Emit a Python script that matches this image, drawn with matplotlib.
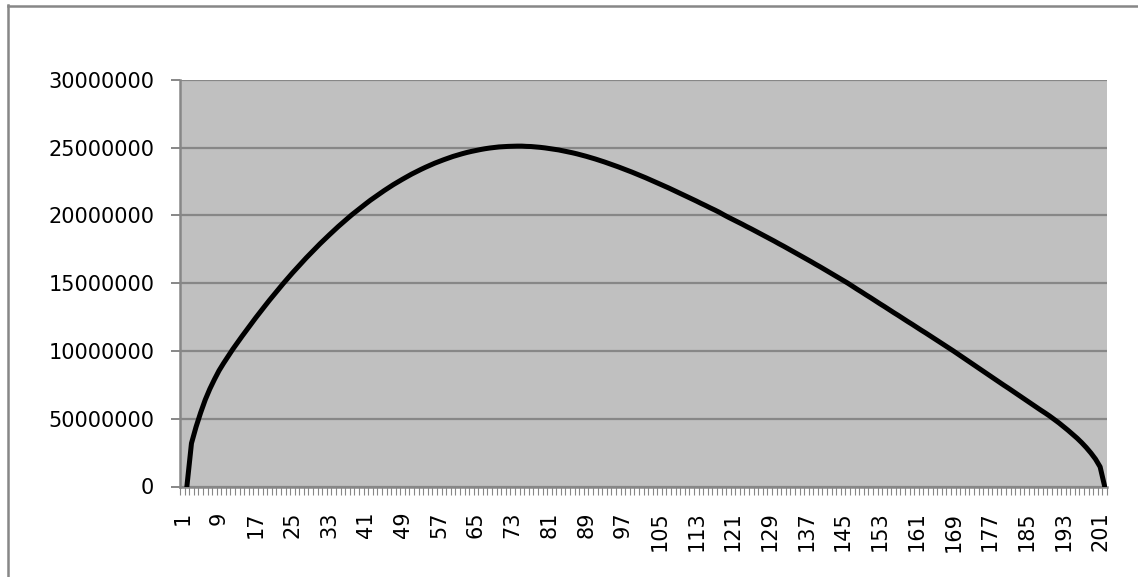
import numpy as np
import matplotlib.pyplot as plt
from matplotlib.lines import Line2D

plt.rcParams['font.family'] = 'DejaVu Sans'

# series values in millions, one per row of the sheet (row 1 is empty)
values_mln = [np.nan,
    0.00, 3.19, 4.40, 5.45, 6.40, 7.20, 7.90, 8.55, 9.10, 9.62,
    10.13, 10.61, 11.08, 11.54, 12.00, 12.45, 12.89, 13.32, 13.75, 14.16,
    14.57, 14.98, 15.37, 15.76, 16.13, 16.50, 16.87, 17.22, 17.57, 17.91,
    18.24, 18.56, 18.88, 19.19, 19.49, 19.78, 20.07, 20.34, 20.61, 20.87,
    21.13, 21.37, 21.61, 21.84, 22.06, 22.28, 22.48, 22.68, 22.87, 23.06,
    23.23, 23.40, 23.56, 23.71, 23.86, 23.99, 24.12, 24.24, 24.36, 24.46,
    24.56, 24.65, 24.73, 24.80, 24.87, 24.93, 24.98, 25.02, 25.06, 25.08,
    25.10, 25.11, 25.12, 25.12, 25.10, 25.09, 25.06, 25.03, 24.99, 24.94,
    24.89, 24.84, 24.77, 24.70, 24.63, 24.55, 24.46, 24.37, 24.27, 24.17,
    24.06, 23.95, 23.83, 23.71, 23.59, 23.46, 23.33, 23.20, 23.06, 22.92,
    22.78, 22.63, 22.48, 22.33, 22.18, 22.03, 21.87, 21.71, 21.55, 21.39,
    21.23, 21.07, 20.90, 20.74, 20.57, 20.41, 20.24, 20.05, 19.87, 19.70,
    19.53, 19.36, 19.18, 19.01, 18.83, 18.65, 18.47, 18.29, 18.11, 17.92,
    17.74, 17.55, 17.36, 17.17, 16.98, 16.79, 16.60, 16.40, 16.21, 16.01,
    15.81, 15.61, 15.41, 15.21, 15.01, 14.79, 14.57, 14.36, 14.14, 13.93,
    13.71, 13.49, 13.28, 13.06, 12.84, 12.63, 12.41, 12.19, 11.98, 11.76,
    11.54, 11.33, 11.11, 10.89, 10.67, 10.45, 10.23, 10.01, 9.78, 9.55,
    9.32, 9.09, 8.86, 8.63, 8.40, 8.17, 7.94, 7.71, 7.48, 7.26,
    7.03, 6.80, 6.57, 6.34, 6.11, 5.88, 5.65, 5.43, 5.20, 4.95,
    4.70, 4.43, 4.15, 3.86, 3.56, 3.23, 2.87, 2.47, 2.02, 1.45,
    0.00]
categories = list(range(1, len(values_mln) + 1))
values = np.array(values_mln) * 1e6

y_ticks = [0, 5e6, 10e6, 15e6, 20e6, 25e6, 30e6]
y_labels = ['0', '50000000', '10000000', '15000000', '20000000', '25000000', '30000000']
x_labels = categories[::8]

W, H = 1138, 577
fig = plt.figure(figsize=(W / 100, H / 100), dpi=100)
ax = fig.add_axes([180 / W, 1 - 486.5 / H, 927 / W, 406.5 / H])
ax.set_facecolor('#c0c0c0')

grey = '#878787'
ax.plot(categories, values, color='black', lw=3.6, zorder=3)

ax.set_xlim(0.5, len(categories) + 0.5)
ax.set_ylim(0, 30e6)
ax.set_yticks(y_ticks)
ax.set_yticklabels(y_labels)
ax.yaxis.grid(True, color=grey, lw=1.6)
ax.set_axisbelow(True)

for side in ['top', 'right']:
    ax.spines[side].set_visible(False)
for side in ['left', 'bottom']:
    ax.spines[side].set_color(grey)
    ax.spines[side].set_linewidth(1.8)

ax.tick_params(axis='y', length=6.5, width=1.4, color=grey, pad=12, labelsize=15)
ax.set_xticks(x_labels)
ax.set_xticklabels([str(c) for c in x_labels], rotation=90)
ax.tick_params(axis='x', which='major', length=0, pad=18, labelsize=15)
ax.set_xticks(np.arange(0.5, len(categories) + 1, 1), minor=True)
ax.tick_params(axis='x', which='minor', length=5.5, width=0.8, color=grey)

# chart area frame
fig.add_artist(Line2D([7.5 / W, 7.5 / W], [0, 1 - 5 / H], color=grey, lw=1.8))
fig.add_artist(Line2D([7.5 / W, 1], [1 - 5.5 / H, 1 - 5.5 / H], color=grey, lw=1.8))

fig.savefig('out.png', dpi=100)
